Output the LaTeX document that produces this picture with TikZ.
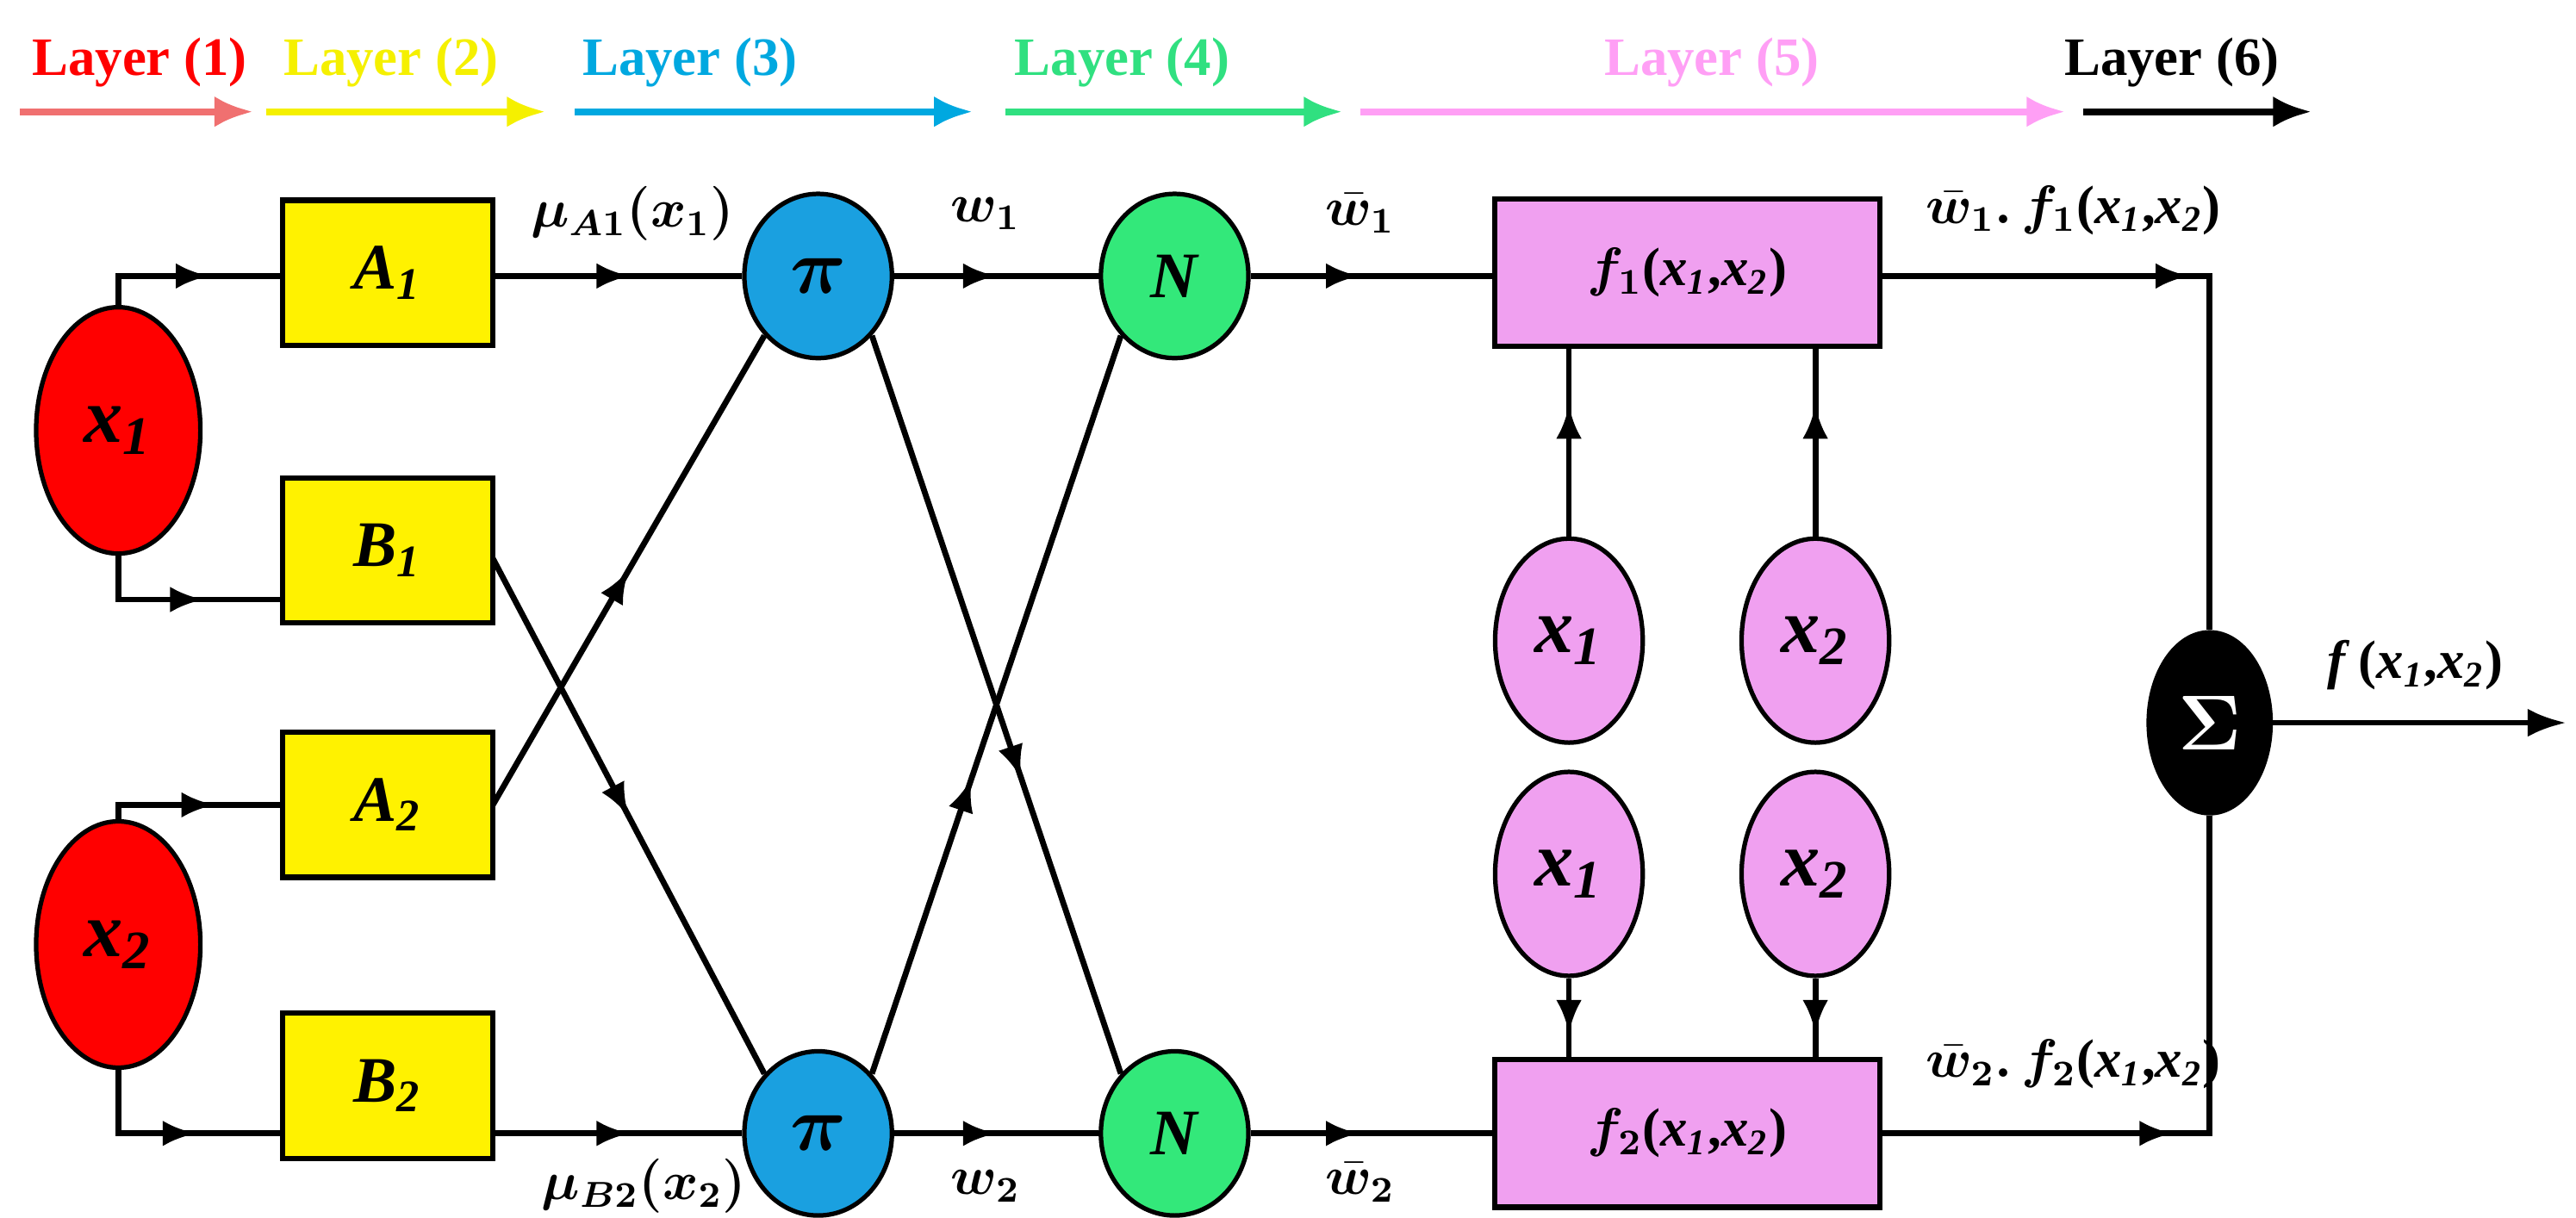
\documentclass[tikz,border=0pt]{standalone}
\usepackage{fontspec}
\setmainfont{Liberation Serif}
\usepackage{amsmath,bm}
\usetikzlibrary{shapes.geometric,arrows.meta,decorations.markings}
\definecolor{lred}{HTML}{F07070}
\definecolor{lyel}{HTML}{F5F000}
\definecolor{lblue}{HTML}{00A8E0}
\definecolor{lgreen}{HTML}{30E080}
\definecolor{lpink}{HTML}{FF9FF5}
\definecolor{pink}{HTML}{F0A0F0}
\definecolor{nblue}{HTML}{1AA0E0}
\definecolor{ngreen}{HTML}{33E87A}
\newcommand{\vx}[2]{\textit{#1}\textsubscript{\textit{#2}}}
\begin{document}
\begin{tikzpicture}[x=0.0128cm,y=-0.0128cm,font=\bfseries,
  ln/.style={line width=1.3pt},
  mid/.style={postaction={decorate},decoration={markings,mark=at position #1 with {\arrow{Latex[length=2.6mm,width=2mm]}}}},
  ell/.style={ellipse,draw,line width=1pt,fill=#1,inner sep=0pt},
  box/.style={rectangle,draw,line width=1.2pt,fill=yellow,minimum width=1.64cm,minimum height=1.13cm,font=\bfseries\Large},
  fbox/.style={rectangle,draw,line width=1.2pt,fill=pink,minimum width=3cm,minimum height=1.15cm,font=\bfseries\large},
  lay/.style={font=\bfseries\large},
  larr/.style={line width=1.6pt,-{Latex[length=3mm,width=2.4mm]}},
  lab/.style={font=\bfseries\large,inner sep=1pt}]
\useasboundingbox (0,0) rectangle (1568,741);
% layer labels
\node[lay,text=red] (L1t) at (85,38) {Layer (1)};
\node[lay,text=lyel] (L2t) at (238,38) {Layer (2)};
\node[lay,text=lblue] (L3t) at (420,38) {Layer (3)};
\node[lay,text=lgreen] (L4t) at (683,38) {Layer (4)};
\node[lay,text=lpink] (L5t) at (1042,38) {Layer (5)};
\node[lay,text=black] (L6t) at (1322,38) {Layer (6)};
\coordinate (a1) at (12,68); \coordinate (b1) at (154,68);
\coordinate (a2) at (162,68); \coordinate (b2) at (332,68);
\coordinate (a3) at (350,68); \coordinate (b3) at (592,68);
\coordinate (a4) at (612,68); \coordinate (b4) at (817,68);
\coordinate (a5) at (828,68); \coordinate (b5) at (1257,68);
\coordinate (a6) at (1268,68); \coordinate (b6) at (1407,68);
\draw[larr,lred] (a1)--(b1);
\draw[larr,lyel] (a2)--(b2);
\draw[larr,lblue] (a3)--(b3);
\draw[larr,lgreen] (a4)--(b4);
\draw[larr,lpink] (a5)--(b5);
\draw[larr,black] (a6)--(b6);
% inputs
\node[ell=red,minimum width=1.28cm,minimum height=1.92cm,font=\bfseries\LARGE] (x1) at (72,262) {\vx{x}{1}};
\node[ell=red,minimum width=1.28cm,minimum height=1.92cm,font=\bfseries\LARGE] (x2) at (72,575) {\vx{x}{2}};
% boxes
\node[box] (A1) at (236,166) {\vx{A}{1}};
\node[box] (B1) at (236,335) {\vx{B}{1}};
\node[box] (A2) at (236,490) {\vx{A}{2}};
\node[box] (B2) at (236,661) {\vx{B}{2}};
\coordinate (A1in) at (172,168);
\coordinate (B1in) at (172,365);
\coordinate (A2in) at (172,490);
\coordinate (B2in) at (172,690);
\draw[ln,mid=0.62] (x1.north) |- (A1in);
\draw[ln,mid=0.62] (x1.south) |- (B1in);
\draw[ln,mid=0.62] (x2.north) |- (A2in);
\draw[ln,mid=0.62] (x2.south) |- (B2in);
% pi nodes
\node[ell=nblue,minimum width=1.15cm,minimum height=1.28cm,font=\LARGE] (P1) at (498,168) {$\bm{\pi}$};
\node[ell=nblue,minimum width=1.15cm,minimum height=1.28cm,font=\LARGE] (P2) at (498,690) {$\bm{\pi}$};
\coordinate (A1o) at (300,168);
\coordinate (B1o) at (300,340);
\coordinate (A2o) at (300,490);
\coordinate (B2o) at (300,690);
\draw[ln,mid=0.55] (A1o) -- (P1.west);
\draw[ln,mid=0.55] (B2o) -- (P2.west);
\draw[ln,mid=0.5] (B1o) -- (P2.north west);
\draw[ln,mid=0.5] (A2o) -- (P1.south west);
\node[lab] (mA) at (385,130) {$\bm{\mu_{A1}(x_1)}$};
\node[lab] (mB) at (392,722) {$\bm{\mu_{B2}(x_2)}$};
% N nodes
\node[ell=ngreen,minimum width=1.15cm,minimum height=1.28cm,font=\bfseries\Large] (N1) at (715,168) {\textit{N}};
\node[ell=ngreen,minimum width=1.15cm,minimum height=1.28cm,font=\bfseries\Large] (N2) at (715,690) {\textit{N}};
\draw[ln,mid=0.5] (P1.east) -- (N1.west);
\draw[ln,mid=0.5] (P2.east) -- (N2.west);
\draw[ln,mid=0.6] (P1.south east) -- (N2.north west);
\draw[ln,mid=0.4] (P2.north east) -- (N1.south west);
\node[lab] (w1) at (600,130) {$\bm{w_1}$};
\node[lab] (w2) at (600,722) {$\bm{w_2}$};
% f boxes
\node[fbox] (F1) at (1027,166) {$\bm{f_1}$(\vx{x}{1},\vx{x}{2})};
\node[fbox] (F2) at (1027,690) {$\bm{f_2}$(\vx{x}{1},\vx{x}{2})};
\draw[ln,mid=0.45] (N1.east) -- (F1.west |- N1.east);
\draw[ln,mid=0.45] (N2.east) -- (F2.west |- N2.east);
\node[lab] (nw1) at (828,130) {$\bm{\bar w_1}$};
\node[lab] (nw2) at (828,720) {$\bm{\bar w_2}$};
% pink ellipses
\tikzset{pe/.style={ell=pink,minimum width=1.15cm,minimum height=1.59cm,font=\bfseries\LARGE}}
\node[pe] (u1) at (955,390) {\vx{x}{1}};
\node[pe] (u2) at (1105,390) {\vx{x}{2}};
\node[pe] (d1) at (955,532) {\vx{x}{1}};
\node[pe] (d2) at (1105,532) {\vx{x}{2}};
\draw[ln,mid=0.7] (u1.north) -- (u1.north |- F1.south);
\draw[ln,mid=0.7] (u2.north) -- (u2.north |- F1.south);
\draw[ln,mid=0.7] (d1.south) -- (d1.south |- F2.north);
\draw[ln,mid=0.7] (d2.south) -- (d2.south |- F2.north);
% sigma
\node[ell=black,minimum width=0.95cm,minimum height=1.41cm,text=white,font=\LARGE] (S) at (1345,440) {$\bm{\Sigma}$};
\draw[ln,mid=0.45] (F1.east |- N1.east) -| (S.north);
\draw[ln,mid=0.45] (F2.east |- N2.east) -| (S.south);
\coordinate (out) at (1562,440);
\draw[ln,-{Latex[length=3mm,width=2.2mm]}] (S.east) -- (out);
\node[lab] (o1) at (1262,128) {$\bm{\bar w_1.\,f_1}$(\vx{x}{1},\vx{x}{2})};
\node[lab] (o2) at (1262,648) {$\bm{\bar w_2.\,f_2}$(\vx{x}{1},\vx{x}{2})};
\node[lab] (fo) at (1470,405) {\textit{f}\,(\vx{x}{1},\vx{x}{2})};
\end{tikzpicture}
\end{document}
